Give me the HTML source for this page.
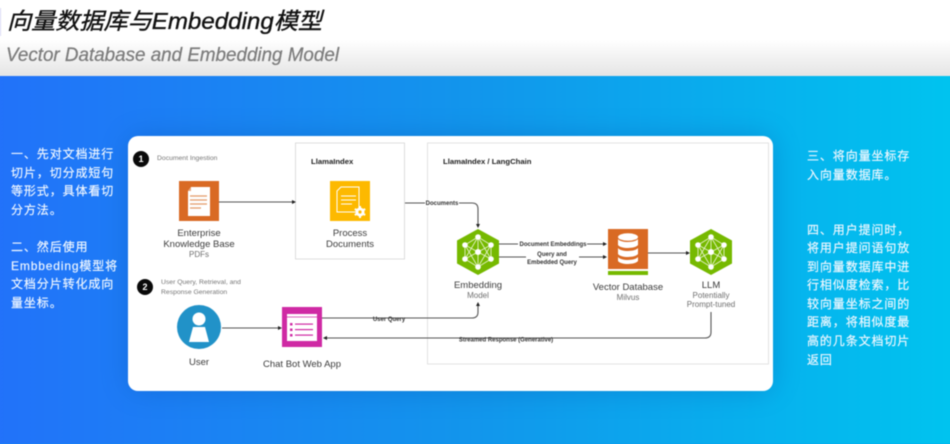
<!DOCTYPE html>
<html><head><meta charset="utf-8"><style>
html,body{margin:0;padding:0;width:950px;height:438px;overflow:hidden;background:#1296ec}
svg{display:block;position:absolute;left:-6px;top:-6px;filter:blur(.45px)}
text{font-family:"Liberation Sans","Noto Sans CJK SC",sans-serif}
.w{fill:#f2f8ff;font-size:12px;letter-spacing:.9px;stroke:#f2f8ff;stroke-width:.15px}
.l{fill:#3c3c3c;font-size:9.5px;text-anchor:middle}
.s{fill:#707070;font-size:8px;text-anchor:middle}
.t{fill:#777;font-size:6.8px}
.b{fill:#222;font-size:7.7px;font-weight:bold}
.c{fill:#333;font-size:6px;font-weight:bold;text-anchor:middle}
.ln{stroke:#555;stroke-width:1.1;fill:none}
</style></head><body>
<svg width="962" height="450" viewBox="-6 -6 962 450" xmlns="http://www.w3.org/2000/svg">
<defs>
<linearGradient id="h" x1="0" y1="0" x2="0" y2="1"><stop offset="0" stop-color="#fff"/><stop offset=".55" stop-color="#fff"/><stop offset="1" stop-color="#e4e4e4"/></linearGradient>
<linearGradient id="bg" x1="0" y1="0" x2="1" y2="0"><stop offset="0" stop-color="#2272fa"/><stop offset=".5" stop-color="#1296ec"/><stop offset="1" stop-color="#00c4ef"/></linearGradient>
<filter id="sh" x="-20%" y="-30%" width="140%" height="160%"><feGaussianBlur stdDeviation="14"/></filter>
<g id="hex">
<polygon points="0,-23 21,-11.500 21,11.500 0,23 -21,11.500 -21,-11.500" fill="#76b900"/>
<g stroke="#e4f2c8" stroke-width=".9" fill="none">
<path d="M0,-15 L-13,-7 L-13,7 L0,15 L13,7 L13,-7 Z M0,-15 V15 M-13,-7 L13,7 M13,-7 L-13,7 M0,-15 L-13,7 M0,-15 L13,7 M0,15 L-13,-7 M0,15 L13,-7"/>
</g>
<g fill="#fff"><circle cx="0" cy="-15" r="2.800"/><circle cx="-13" cy="-7" r="2.800"/><circle cx="13" cy="-7" r="2.800"/><circle cx="-13" cy="7" r="2.800"/><circle cx="13" cy="7" r="2.800"/><circle cx="0" cy="15" r="2.800"/><circle cx="0" cy="0" r="3"/></g>
</g>
</defs>
<rect x="-6" y="-6" width="962" height="83" fill="url(#h)"/>
<rect x="-6" y="76" width="962" height="368" fill="url(#bg)"/>
<rect x="128" y="136" width="645" height="255" rx="10" fill="#0a4aa0" opacity=".3" filter="url(#sh)"/>
<rect x="0" y="8" width="1" height="28" fill="#d8d8f4"/>
<text x="7" y="29" font-size="23" font-style="italic" fill="#111" stroke="#111" stroke-width=".35" textLength="315" lengthAdjust="spacingAndGlyphs">向量数据库与Embedding模型</text>
<text x="6" y="61" font-size="19" font-style="italic" fill="#7c7c7c" stroke="#7c7c7c" stroke-width=".25" textLength="333" lengthAdjust="spacingAndGlyphs">Vector Database and Embedding Model</text>

<text class="w" x="11" y="158">一、先对文档进行</text>
<text class="w" x="11" y="177">切片，切分成短句</text>
<text class="w" x="11" y="195">等形式，具体看切</text>
<text class="w" x="11" y="214">分方法。</text>
<text class="w" x="11" y="251">二、然后使用</text>
<text class="w" x="11" y="270" textLength="107">Embbeding模型将</text>
<text class="w" x="11" y="288">文档分片转化成向</text>
<text class="w" x="11" y="307">量坐标。</text>
<text class="w" x="807" y="160">三、将向量坐标存</text>
<text class="w" x="807" y="179">入向量数据库。</text>
<text class="w" x="807" y="234">四、用户提问时，</text>
<text class="w" x="807" y="252">将用户提问语句放</text>
<text class="w" x="807" y="271">到向量数据库中进</text>
<text class="w" x="807" y="289">行相似度检索，比</text>
<text class="w" x="807" y="308">较向量坐标之间的</text>
<text class="w" x="807" y="326">距离，将相似度最</text>
<text class="w" x="807" y="345">高的几条文档切片</text>
<text class="w" x="807" y="364">返回</text>

<rect x="128" y="136" width="645" height="255" rx="10" fill="#fff"/>
<rect x="295.500" y="143" width="109" height="116" fill="#fff" stroke="#ddd"/>
<rect x="427.500" y="143" width="341" height="221" fill="#fff" stroke="#e2e2e2"/>

<circle cx="141" cy="159" r="8" fill="#0a0a0a"/>
<text x="141" y="162" font-size="9" font-weight="bold" fill="#fff" text-anchor="middle">1</text>
<text class="t" x="157" y="160">Document Ingestion</text>
<circle cx="145" cy="287" r="8" fill="#0a0a0a"/>
<text x="145" y="290" font-size="9" font-weight="bold" fill="#fff" text-anchor="middle">2</text>
<text class="t" x="161" y="284">User Query, Retrieval, and</text>
<text class="t" x="161" y="294">Response Generation</text>
<text class="b" x="311" y="164">LlamaIndex</text>
<text class="b" x="443" y="164">LlamaIndex / LangChain</text>

<!-- KB icon -->
<rect x="179" y="181" width="40" height="40" fill="#d96a24"/>
<path d="M191,187 H210 V216 H188 V191 Z" fill="#fff"/>
<path d="M191,187 V191 H188 Z" fill="#e8a880"/>
<path d="M190,196 H207 M190,200 H207 M190,204 H207 M190,208 H201" stroke="#e49a68" stroke-width="1.200"/>
<text class="l" x="199" y="236">Enterprise</text>
<text class="l" x="199" y="247">Knowledge Base</text>
<text class="s" x="199" y="257">PDFs</text>

<!-- Process icon -->
<rect x="330" y="181" width="40" height="40" fill="#fdb900"/>
<path d="M341,187 H359 V212 H337 V191 Z" fill="none" stroke="#fff" stroke-width="1"/>
<path d="M341,196 H356 M341,200 H356 M341,204 H352" stroke="#fff" stroke-width="1"/>
<circle cx="360" cy="212" r="4.500" fill="#fff"/>
<path d="M360,206 V218 M354.800,209 L365.200,215 M365.200,209 L354.800,215" stroke="#fff" stroke-width="2"/>
<circle cx="360" cy="212" r="1.600" fill="#fdb900"/>
<text class="l" x="350" y="236">Process</text>
<text class="l" x="350" y="247">Documents</text>

<!-- User -->
<circle cx="199" cy="327" r="22" fill="#2192c8"/>
<circle cx="199" cy="319" r="6.500" fill="#fff"/>
<path d="M193,327 H205 L209,342 H189 Z" fill="#fff"/>
<text class="l" x="199" y="365">User</text>

<!-- Chat -->
<rect x="282" y="307" width="40" height="40" fill="#cf2aa4"/>
<rect x="287" y="314" width="30" height="27" fill="#fff"/>
<path d="M287,317 H317" stroke="#cf2aa4" stroke-width=".8"/>
<g fill="#cf2aa4"><rect x="290" y="323" width="2.500" height="2.500"/><rect x="290" y="328.500" width="2.500" height="2.500"/><rect x="290" y="334" width="2.500" height="2.500"/>
<rect x="295" y="323.500" width="18" height="1.200"/><rect x="295" y="329" width="18" height="1.200"/><rect x="295" y="334.500" width="18" height="1.200"/></g>
<text class="l" x="302" y="367">Chat Bot Web App</text>

<!-- Embedding -->
<use href="#hex" x="478" y="252"/>
<text class="l" x="478" y="288">Embedding</text>
<text class="s" x="478" y="298">Model</text>

<!-- DB -->
<rect x="608" y="229" width="40" height="40" fill="#d96a24"/>
<rect x="608" y="271" width="40" height="4" fill="#76b900"/>
<g fill="#fff"><ellipse cx="628" cy="237" rx="10" ry="3.800"/><path d="M618,239 C621,243 635,243 638,239 V245 C635,249 621,249 618,245 Z"/><path d="M618,248 C621,252 635,252 638,248 V254 C635,258 621,258 618,254 Z"/><path d="M618,257 C621,261 635,261 638,257 V261 C635,265 621,265 618,261 Z"/></g>
<text class="l" x="628" y="290">Vector Database</text>
<text class="s" x="628" y="300">Milvus</text>

<!-- LLM -->
<use href="#hex" x="711" y="252"/>
<text class="l" x="711" y="288">LLM</text>
<text class="s" x="711" y="298">Potentially</text>
<text class="s" x="711" y="307">Prompt-tuned</text>

<!-- connectors -->
<g class="ln">
<path d="M219,202 H292"/>
<path d="M405,203 H472 Q478,203 478,209 V225"/>
<path d="M499,244 H604"/>
<path d="M499,257 H604"/>
<path d="M648,253 H686"/>
<path d="M222,328 H278"/>
<path d="M322,318 H472 Q478,318 478,312 V304"/>
<path d="M711,312 V332 Q711,338 705,338 H326"/>
</g>
<g fill="#222">
<path d="M296,202 L292,200 V204 Z"/>
<path d="M478,228 L476,224 H480 Z"/>
<path d="M607,244 L603,242 V246 Z"/>
<path d="M607,257 L603,255 V259 Z"/>
<path d="M690,253 L686,251 V255 Z"/>
<path d="M282,328 L278,326 V330 Z"/>
<path d="M478,302 L476,306 H480 Z"/>
<path d="M323,338 L327,336 V340 Z"/>
</g>
<g>
<rect x="425" y="200" width="34" height="7" fill="#fff"/>
<text class="c" x="442" y="205">Documents</text>
<rect x="518" y="241" width="69" height="7" fill="#fff"/>
<text class="c" x="553" y="246">Document Embeddings</text>
<rect x="526" y="250" width="53" height="15" fill="#fff"/>
<text class="c" x="552" y="256">Query and</text>
<text class="c" x="552" y="264">Embedded Query</text>
<text class="c" x="389" y="321">User Query</text>
<text class="c" x="506" y="341.500">Streamed Response (Generative)</text>
</g>
</svg>
</body></html>
